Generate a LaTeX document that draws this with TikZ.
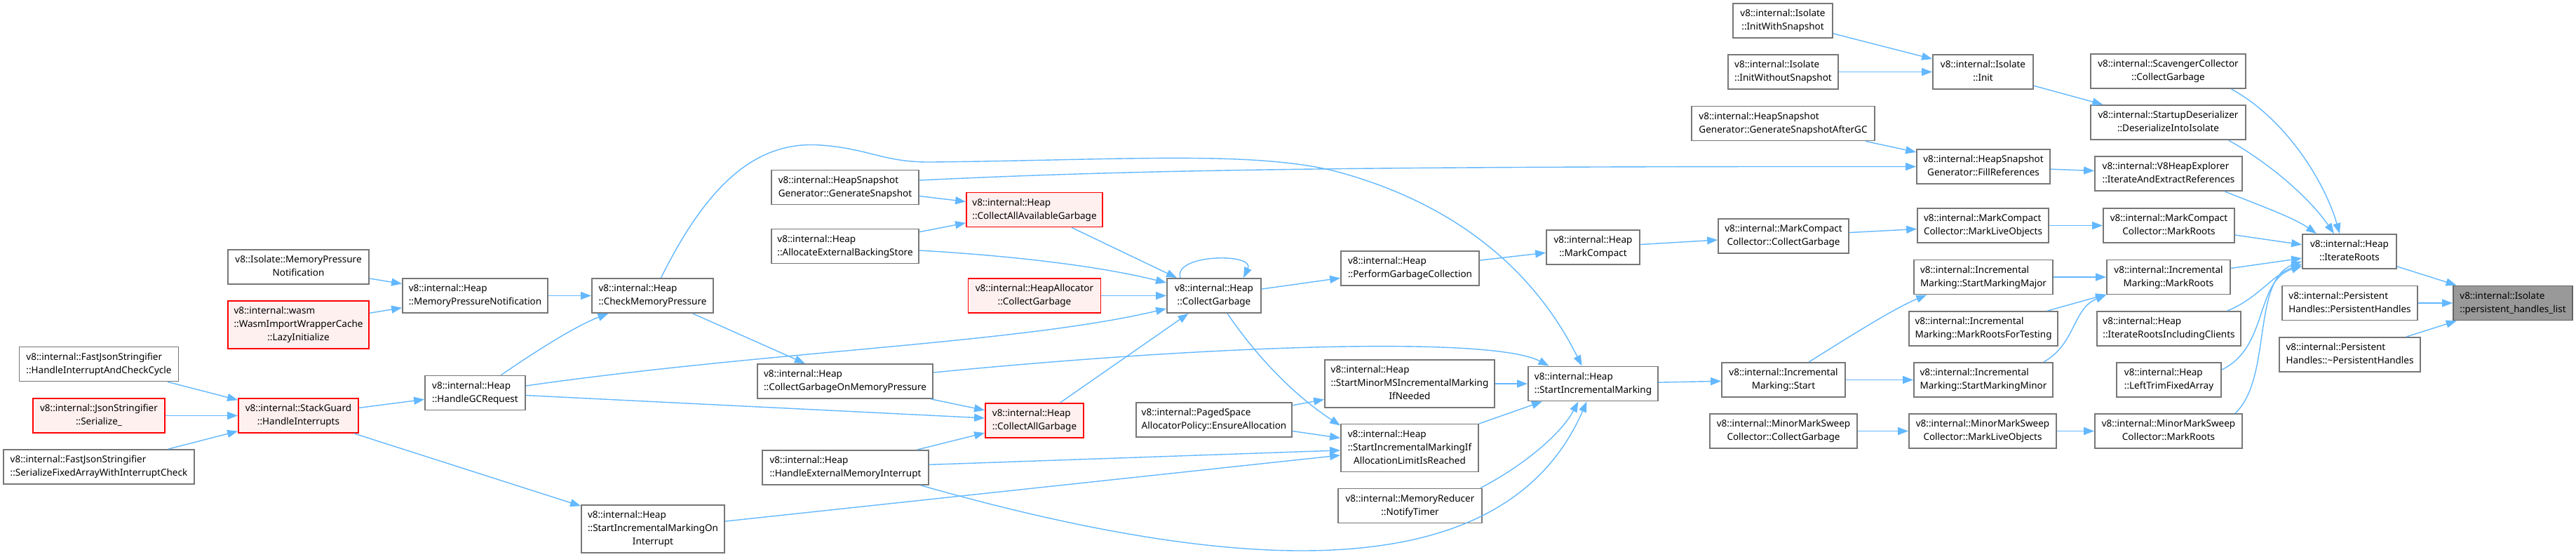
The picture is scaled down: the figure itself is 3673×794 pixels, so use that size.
\documentclass[tikz,border=0pt]{standalone}
\usepackage{fontspec}
\setmainfont{Noto Sans}
\usepackage{xcolor}
\usepackage{tikz}
\usetikzlibrary{arrows.meta}
\definecolor{edgeBlue}{HTML}{63B8FF}
\definecolor{boxGrey}{HTML}{777777}
\definecolor{hitRed}{HTML}{FF0000}
\definecolor{hitFill}{HTML}{FFF0F0}
\definecolor{rootFill}{HTML}{999999}
% first lines left, last line centred
\newcommand{\lbl}[2]{\begin{tabular}{@{}l@{}}#1\\\multicolumn{1}{@{}c@{}}{#2}\end{tabular}}
\newcommand{\lblThree}[3]{\begin{tabular}{@{}l@{}}#1\\#2\\\multicolumn{1}{@{}c@{}}{#3}\end{tabular}}

\begin{document}
\begin{tikzpicture}[x=1pt, y=-1pt,
  every node/.style={font=\fontsize{13.5}{19}\selectfont},
  fn/.style={draw=boxGrey, line width=1.8pt, fill=white, inner sep=0pt, minimum height=49pt},
  fnTall/.style={fn, minimum height=68pt},
  hit/.style={draw=hitRed, fill=hitFill},
  root/.style={fill=rootFill, draw=boxGrey!85!black},
  call/.style={edgeBlue, line width=1.4pt, -{Triangle[length=15pt, width=11pt]}}]
  \useasboundingbox (0,0) rectangle (3673,794);

  % LEFT: json / interrupts / memory pressure
  \node[fn, minimum width=227pt] (fjCycle) at (141,519) {\lbl{v8::internal::FastJsonStringifier}{::HandleInterruptAndCheckCycle}};
  \node[fn, hit, minimum width=188pt] (jsSerialize) at (141,592.5) {\lbl{v8::internal::JsonStringifier}{::Serialize\_}};
  \node[fn, minimum width=272pt] (fjFixedArray) at (141,665.5) {\lbl{v8::internal::FastJsonStringifier}{::SerializeFixedArrayWithInterruptCheck}};
  \node[fn, minimum width=201pt] (isoMPN) at (425.5,380.5) {\lbl{v8::Isolate::MemoryPressure}{Notification}};
  \node[fnTall, hit, minimum width=201pt] (wasmLazy) at (425.5,463) {\lblThree{v8::internal::wasm}{::WasmImportWrapperCache}{::LazyInitialize}};
  \node[fn, hit, minimum width=171pt] (stackGuard) at (425.5,592.5) {\lbl{v8::internal::StackGuard}{::HandleInterrupts}};
  \node[fn, minimum width=207pt] (heapMPN) at (677.5,421.5) {\lbl{v8::internal::Heap}{::MemoryPressureNotification}};
  \node[fn, minimum width=143pt] (handleGC) at (677.5,560) {\lbl{v8::internal::Heap}{::HandleGCRequest}};
  \node[fn, minimum width=173pt] (checkMP) at (930.5,421.5) {\lbl{v8::internal::Heap}{::CheckMemoryPressure}};
  \node[fnTall, minimum width=204pt] (startIncOnInt) at (931,754) {\lblThree{v8::internal::Heap}{::StartIncrementalMarkingOn}{Interrupt}};

  % MIDDLE: garbage collection entry points
  \node[fn, minimum width=210pt] (genSnap) at (1205,267) {\lbl{v8::internal::HeapSnapshot}{Generator::GenerateSnapshot}};
  \node[fn, minimum width=210pt] (allocExt) at (1205,351) {\lbl{v8::internal::Heap}{::AllocateExternalBackingStore}};
  \node[fn, minimum width=250pt] (cgOnMP) at (1205,543.5) {\lbl{v8::internal::Heap}{::CollectGarbageOnMemoryPressure}};
  \node[fn, minimum width=237pt] (handleExt) at (1205.5,666.5) {\lbl{v8::internal::Heap}{::HandleExternalMemoryInterrupt}};
  \node[fn, hit, minimum width=194pt] (collectAllAvail) at (1475,299) {\lbl{v8::internal::Heap}{::CollectAllAvailableGarbage}};
  \node[fn, hit, minimum width=189pt] (heapAllocCG) at (1475,421.5) {\lbl{v8::internal::HeapAllocator}{::CollectGarbage}};
  \node[fn, hit, minimum width=140pt] (collectAll) at (1475,599.5) {\lbl{v8::internal::Heap}{::CollectAllGarbage}};
  \node[fn, minimum width=134pt] (collectGarbage) at (1731,421.5) {\lbl{v8::internal::Heap}{::CollectGarbage}};
  \node[fn, minimum width=222pt] (ensureAlloc) at (1731,598.5) {\lbl{v8::internal::PagedSpace}{AllocatorPolicy::EnsureAllocation}};
  \node[fn, minimum width=197pt] (performGC) at (2010.5,382.5) {\lbl{v8::internal::Heap}{::PerformGarbageCollection}};
  \node[fnTall, minimum width=242pt] (startMinorMS) at (2010,547) {\lblThree{v8::internal::Heap}{::StartMinorMSIncrementalMarking}{IfNeeded}};
  \node[fnTall, minimum width=196pt] (startIncIfAlloc) at (2010,638.5) {\lblThree{v8::internal::Heap}{::StartIncrementalMarkingIf}{AllocationLimitIsReached}};
  \node[fn, minimum width=205pt] (notifyTimer) at (2010.5,721) {\lbl{v8::internal::MemoryReducer}{::NotifyTimer}};
  \node[fn, minimum width=133pt] (markCompact) at (2271.5,352.5) {\lbl{v8::internal::Heap}{::MarkCompact}};
  \node[fn, minimum width=185pt] (startIncMarking) at (2271.5,547) {\lbl{v8::internal::Heap}{::StartIncrementalMarking}};

  % RIGHT: marking, roots, handles
  \node[fn, minimum width=142pt] (initWithSnap) at (2542,29.5) {\lbl{v8::internal::Isolate}{::InitWithSnapshot}};
  \node[fn, minimum width=157pt] (initWithoutSnap) at (2542.5,102.5) {\lbl{v8::internal::Isolate}{::InitWithoutSnapshot}};
  \node[fn, minimum width=261pt] (genSnapAfterGC) at (2542.5,176) {\lbl{v8::internal::HeapSnapshot}{Generator::GenerateSnapshotAfterGC}};
  \node[fn, minimum width=186pt] (mcCollect) at (2543,336.5) {\lbl{v8::internal::MarkCompact}{Collector::CollectGarbage}};
  \node[fn, minimum width=176pt] (imStart) at (2543,541.5) {\lbl{v8::internal::Incremental}{Marking::Start}};
  \node[fn, minimum width=210pt] (mmsCollect) at (2543,614.5) {\lbl{v8::internal::MinorMarkSweep}{Collector::CollectGarbage}};
  \node[fn, minimum width=143pt] (isoInit) at (2827.5,102.5) {\lbl{v8::internal::Isolate}{::Init}};
  \node[fn, minimum width=190pt] (fillRefs) at (2828,237.5) {\lbl{v8::internal::HeapSnapshot}{Generator::FillReferences}};
  \node[fn, minimum width=187pt] (mcLive) at (2827.5,321.5) {\lbl{v8::internal::MarkCompact}{Collector::MarkLiveObjects}};
  \node[fn, minimum width=198pt] (imMajor) at (2828,395) {\lbl{v8::internal::Incremental}{Marking::StartMarkingMajor}};
  \node[fn, minimum width=212pt] (imTesting) at (2828,468.5) {\lbl{v8::internal::Incremental}{Marking::MarkRootsForTesting}};
  \node[fn, minimum width=198pt] (imMinor) at (2828,541.5) {\lbl{v8::internal::Incremental}{Marking::StartMarkingMinor}};
  \node[fn, minimum width=210pt] (mmsLive) at (2827,614.5) {\lbl{v8::internal::MinorMarkSweep}{Collector::MarkLiveObjects}};
  \node[fn, minimum width=221pt] (scavenger) at (3091.5,101.5) {\lbl{v8::internal::ScavengerCollector}{::CollectGarbage}};
  \node[fn, minimum width=221pt] (deserialize) at (3091.5,174.5) {\lbl{v8::internal::StartupDeserializer}{::DeserializeIntoIsolate}};
  \node[fn, minimum width=210pt] (v8Explorer) at (3092,247.5) {\lbl{v8::internal::V8HeapExplorer}{::IterateAndExtractReferences}};
  \node[fn, minimum width=187pt] (mcRoots) at (3092.5,321.5) {\lbl{v8::internal::MarkCompact}{Collector::MarkRoots}};
  \node[fn, minimum width=176pt] (imRoots) at (3092,395) {\lbl{v8::internal::Incremental}{Marking::MarkRoots}};
  \node[fn, minimum width=205pt] (rootsClients) at (3092.5,468.5) {\lbl{v8::internal::Heap}{::IterateRootsIncludingClients}};
  \node[fn, minimum width=149pt] (leftTrim) at (3092.5,541.5) {\lbl{v8::internal::Heap}{::LeftTrimFixedArray}};
  \node[fn, minimum width=210pt] (mmsRoots) at (3092,614.5) {\lbl{v8::internal::MinorMarkSweep}{Collector::MarkRoots}};
  \node[fn, minimum width=134pt] (iterateRoots) at (3350,358.5) {\lbl{v8::internal::Heap}{::IterateRoots}};
  \node[fn, minimum width=193pt] (phCtor) at (3350.5,432) {\lbl{v8::internal::Persistent}{Handles::PersistentHandles}};
  \node[fn, minimum width=201pt] (phDtor) at (3350.5,505.5) {\lbl{v8::internal::Persistent}{Handles::\textasciitilde PersistentHandles}};
  \node[fn, root, minimum width=170pt] (handlesList) at (3583,432) {\lbl{v8::internal::Isolate}{::persistent\_handles\_list}};

  % calls, left to right
  \draw[call] (fjCycle) -- (stackGuard);
  \draw[call] (jsSerialize) -- (stackGuard);
  \draw[call] (fjFixedArray) -- (stackGuard);
  \draw[call] (isoMPN) -- (heapMPN);
  \draw[call] (wasmLazy) -- (heapMPN);
  \draw[call] (stackGuard) -- (handleGC);
  \draw[call] (stackGuard) -- (startIncOnInt);
  \draw[call] (heapMPN) -- (checkMP);
  \draw[call] ([xshift=37pt]handleGC.north) .. controls (765,500) and (820,465) .. ([xshift=-63pt]checkMP.south);
  \draw[call] ([yshift=10pt]handleGC.east) .. controls (1100,500) and (1450,490) .. ([yshift=-18.5pt]collectGarbage.west);
  \draw[call] (handleGC) -- (collectAll);
  \draw[call] (checkMP) -- (cgOnMP);
  \draw[call] ([xshift=12pt]checkMP.north) .. controls (1010,260) and (1080,200) .. (1171,207)
    .. controls (1240,212) and (1260,232) .. (1330,231)
    .. controls (1600,228) and (1780,215) .. (1900,243)
    .. controls (2080,290) and (2190,390) .. ([xshift=-16pt]startIncMarking.north);
  \draw[call] (startIncOnInt) -- (startIncIfAlloc);
  \draw[call] (genSnap) -- (collectAllAvail);
  \draw[call] ([yshift=10pt]genSnap.east) .. controls (1600,243) and (1900,237) .. (fillRefs.west);
  \draw[call] (allocExt) -- (collectAllAvail);
  \draw[call] ([yshift=-6pt]allocExt.east) .. controls (1450,365) and (1570,380) .. ([yshift=18.5pt]collectGarbage.west);
  \draw[call] (cgOnMP) -- (collectAll);
  \draw[call] ([yshift=12.5pt]cgOnMP.east) .. controls (1750,490) and (2130,480) .. ([xshift=-63pt]startIncMarking.north);
  \draw[call] (handleExt) -- (collectAll);
  \draw[call] (handleExt) -- (startIncIfAlloc);
  \draw[call] ([xshift=-12pt]handleExt.south east) .. controls (1800,830) and (2150,830) .. ([xshift=-9pt]startIncMarking.south);
  \draw[call] (collectAllAvail) -- (collectGarbage);
  \draw[call] (heapAllocCG) -- (collectGarbage);
  \draw[call] (collectAll) -- (collectGarbage);
  \draw[call] ([xshift=-48pt]collectGarbage.north) .. controls (1672,362) and (1790,360) .. ([xshift=42pt]collectGarbage.north);
  \draw[call] (collectGarbage) -- (performGC);
  \draw[call] ([xshift=19pt]collectGarbage.south) .. controls (1800,520) and (1855,570) .. ([yshift=-3pt]startIncIfAlloc.north west);
  \draw[call] (ensureAlloc) -- (startMinorMS);
  \draw[call] (ensureAlloc) -- (startIncIfAlloc);
  \draw[call] (startMinorMS) -- (startIncMarking);
  \draw[call] (startIncIfAlloc) -- (startIncMarking);
  \draw[call] ([xshift=-3pt]notifyTimer.north east) .. controls (2170,665) and (2225,620) .. ([xshift=-21pt]startIncMarking.south);
  \draw[call] (performGC) -- (markCompact);
  \draw[call] (markCompact) -- (mcCollect);
  \draw[call] (startIncMarking) -- (imStart);
  \draw[call] (initWithSnap) -- (isoInit);
  \draw[call] (initWithoutSnap) -- (isoInit);
  \draw[call] (genSnapAfterGC) -- (fillRefs);
  \draw[call] (mcCollect) -- (mcLive);
  \draw[call] ([xshift=36pt]imStart.north) .. controls (2640,478) and (2700,440) .. ([xshift=19pt]imMajor.south west);
  \draw[call] (imStart) -- (imMinor);
  \draw[call] (mmsCollect) -- (mmsLive);
  \draw[call] (isoInit) -- (deserialize);
  \draw[call] (fillRefs) -- (v8Explorer);
  \draw[call] (mcLive) -- (mcRoots);
  \draw[call] (imMajor) -- (imRoots);
  \draw[call] (imTesting) -- (imRoots);
  \draw[call] ([xshift=-14pt]imMinor.north east) .. controls (2960,490) and (2955,440) .. (imRoots.south west);
  \draw[call] (mmsLive) -- (mmsRoots);
  \draw[call] ([xshift=90pt]scavenger.south) .. controls (3260,170) and (3315,260) .. ([xshift=-14pt]iterateRoots.north);
  \draw[call] ([xshift=86pt]deserialize.south) .. controls (3240,235) and (3295,285) .. ([xshift=-22pt]iterateRoots.north);
  \draw[call] ([xshift=80pt]v8Explorer.south) .. controls (3220,292) and (3270,310) .. ([xshift=-47pt]iterateRoots.north);
  \draw[call] (mcRoots) -- (iterateRoots);
  \draw[call] (imRoots) -- (iterateRoots);
  \draw[call] ([xshift=-20pt]rootsClients.north east) .. controls (3220,425) and (3240,392) .. ([yshift=-18pt]iterateRoots.west);
  \draw[call] ([yshift=14.5pt]leftTrim.east) .. controls (3235,495) and (3215,400) .. ([yshift=-21pt]iterateRoots.west);
  \draw[call] ([xshift=-11pt]mmsRoots.north east) .. controls (3240,540) and (3210,400) .. ([yshift=-14pt]iterateRoots.west);
  \draw[call] (iterateRoots) -- (handlesList);
  \draw[call] (phCtor) -- (handlesList);
  \draw[call] (phDtor) -- (handlesList);
\end{tikzpicture}
\end{document}
